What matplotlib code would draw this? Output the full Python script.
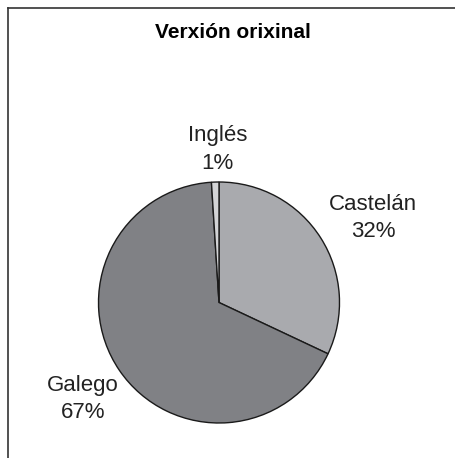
import matplotlib.pyplot as plt
from matplotlib.lines import Line2D

plt.rcParams['font.family'] = ['Liberation Sans', 'DejaVu Sans']

# Data
labels = ['Castelán', 'Galego', 'Inglés']
shares = [32, 67, 1]
colors = ['#a9aaae', '#808185', '#d3d4d6']
title = 'Verxión orixinal'

# label positions in pie (radius=1) units
label_pos = {'Castelán': (1.28, 0.70), 'Galego': (-1.13, -0.80), 'Inglés': (-0.01, 1.27)}

W, H = 455, 458
fig = plt.figure(figsize=(W / 100, H / 100), dpi=100)

# pie center and radius in pixels
cx, cy, r = 219, 302.5, 120.5
ax = fig.add_axes([(cx - r) / W, (H - cy - r) / H, 2 * r / W, 2 * r / H])
ax.pie(shares, colors=colors, startangle=90, counterclock=False,
       wedgeprops=dict(edgecolor='#1a1a1a', linewidth=1.0))
ax.set_xlim(-1, 1)
ax.set_ylim(-1, 1)

for lab, val in zip(labels, shares):
    x, y = label_pos[lab]
    ax.text(x, y, f'{lab}\n{val}%', ha='center', va='center', fontsize=16,
            color='#222222', linespacing=1.4, clip_on=False)

fig.text(233 / W, 1 - 32 / H, title, ha='center', va='center',
         fontsize=15, fontweight='bold', color='black')

# frame lines (left and top only, as in the picture)
fig.add_artist(Line2D([7.5 / W, 7.5 / W], [0, 1 - 7.5 / H], transform=fig.transFigure,
                      color='#333333', linewidth=1.2))
fig.add_artist(Line2D([7.5 / W, 1], [1 - 7.5 / H, 1 - 7.5 / H], transform=fig.transFigure,
                      color='#333333', linewidth=1.2))

fig.savefig('out.png', dpi=100, facecolor='white')
